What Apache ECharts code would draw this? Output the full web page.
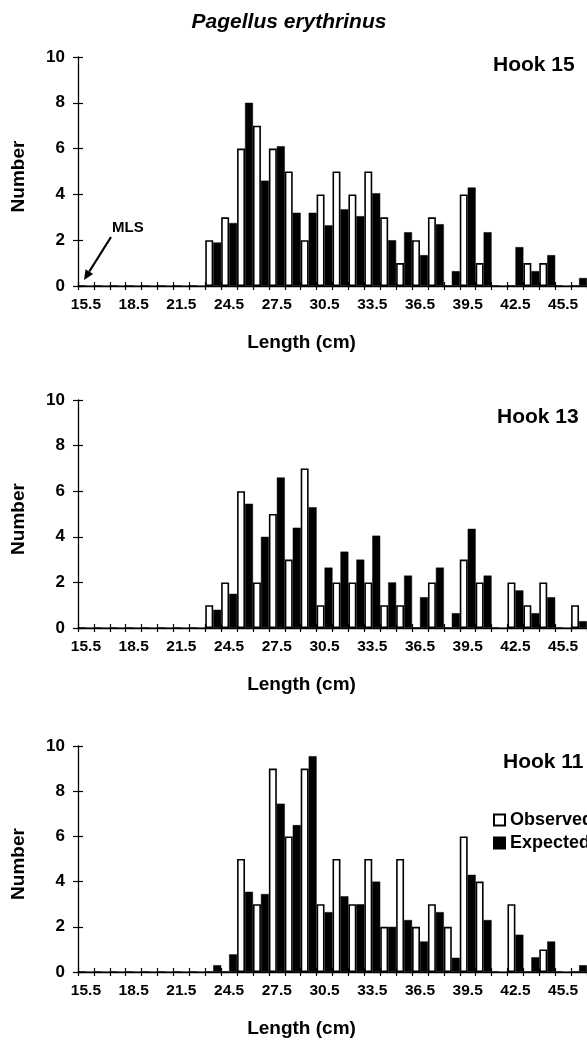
<!DOCTYPE html>
<html>
<head>
<meta charset="utf-8">
<script src="https://cdn.jsdelivr.net/npm/echarts@6/dist/echarts.min.js"></script>
<style>
  html, body { margin: 0; padding: 0; background: #fff; }
  #chart { width: 587px; height: 1048px; }
</style>
</head>
<body>
<div id="chart"></div>
<script>
// ---- data ----
const lengthBins = ['15.5','16.5','17.5','18.5','19.5','20.5','21.5','22.5','23.5','24.5','25.5','26.5','27.5','28.5','29.5','30.5','31.5','32.5','33.5','34.5','35.5','36.5','37.5','38.5','39.5','40.5','41.5','42.5','43.5','44.5','45.5','46.5'];
const yTicks = [0, 2, 4, 6, 8, 10];

const hook15Observed = [0,0,0,0,0,0,0,0, 2,3,6,7,6,5,2,4,5,4,5,3,1,2,3,0,4,1,0,0,1,1,0,0];
const hook15Expected = [0,0,0,0,0,0,0,0, 1.9,2.75,8.0,4.6,6.1,3.2,3.2,2.65,3.35,3.05,4.05,2.0,2.35,1.35,2.7,0.65,4.3,2.35,0,1.7,0.65,1.35,0,0.35];

const hook13Observed = [0,0,0,0,0,0,0,0, 1,2,6,2,5,3,7,1,2,2,2,1,1,0,2,0,3,2,0,2,1,2,0,1];
const hook13Expected = [0,0,0,0,0,0,0,0, 0.8,1.5,5.45,4.0,6.6,4.4,5.3,2.65,3.35,3.0,4.05,2.0,2.3,1.35,2.65,0.65,4.35,2.3,0,1.65,0.65,1.35,0,0.3];

const hook11Observed = [0,0,0,0,0,0,0,0, 0,0,5,3,9,6,9,3,5,3,5,2,5,2,3,2,6,4,0,3,0,1,0,0];
const hook11Expected = [0,0,0,0,0,0,0,0, 0.3,0.78,3.55,3.45,7.45,6.5,9.55,2.65,3.35,3.0,4.0,2.0,2.3,1.35,2.65,0.63,4.3,2.3,0,1.65,0.65,1.35,0,0.3];

const panelNames = ['Hook 15', 'Hook 13', 'Hook 11'];
const seriesNames = ['Observed', 'Expected'];

// ---- layout ----
const FONT = 'Liberation Sans, Arial, Helvetica, sans-serif';
const panels = [
  { top: 57, height: 229, obs: hook15Observed, exp: hook15Expected, label: { left: 488, top: 50 } },
  { top: 400, height: 228, obs: hook13Observed, exp: hook13Expected, label: { left: 492, top: 402 } },
  { top: 746, height: 226, obs: hook11Observed, exp: hook11Expected, label: { left: 498, top: 747 } }
];

const grid = [], xAxis = [], yAxis = [], series = [];
const title = [{
  text: 'Pagellus erythrinus', left: 284, top: 7, textAlign: 'center',
  textStyle: { fontFamily: FONT, fontSize: 21, fontWeight: 'bold', fontStyle: 'italic', color: '#000' }
}];

panels.forEach((p, i) => {
  grid.push({ left: 78, width: 511, top: p.top, height: p.height, containLabel: false });
  // main x axis (outer ticks + labels)
  xAxis.push({
    gridIndex: i, type: 'category', data: lengthBins, boundaryGap: true, position: 'bottom',
    axisLine: { show: true, lineStyle: { color: '#000', width: 1.3 } },
    axisTick: { show: true, interval: 0, length: 4, lineStyle: { color: '#000', width: 1.2 } },
    axisLabel: { show: true, interval: 2, color: '#000', fontFamily: FONT, fontWeight: 'bold', fontSize: 15.5, margin: 11 },
    name: 'Length (cm)', nameLocation: 'middle', nameGap: 47,
    nameTextStyle: { fontFamily: FONT, fontWeight: 'bold', fontSize: 19, color: '#000', padding: [0, 62, 0, 0] },
    splitLine: { show: false }
  });
  // inner ticks
  xAxis.push({
    gridIndex: i, type: 'category', data: lengthBins, boundaryGap: true, position: 'bottom',
    axisLine: { show: false },
    axisTick: { show: true, inside: true, interval: 0, length: 4, lineStyle: { color: '#000', width: 1.2 } },
    axisLabel: { show: false }, splitLine: { show: false }
  });
  yAxis.push({
    gridIndex: i, type: 'value', min: yTicks[0], max: yTicks[yTicks.length - 1], interval: 2,
    axisLine: { show: true, lineStyle: { color: '#000', width: 1.3 } },
    axisTick: { show: true, length: 5, lineStyle: { color: '#000', width: 1.2 } },
    axisLabel: { color: '#000', fontFamily: FONT, fontWeight: 'bold', fontSize: 17, margin: 13 },
    splitLine: { show: false },
    name: 'Number', nameLocation: 'middle', nameGap: 50, nameRotate: 90,
    nameTextStyle: { fontFamily: FONT, fontWeight: 'bold', fontSize: 19, color: '#000', padding: [0, 10, 0, 0] }
  });
  yAxis.push({
    gridIndex: i, type: 'value', min: yTicks[0], max: yTicks[yTicks.length - 1], interval: 2, position: 'left',
    axisLine: { show: false },
    axisTick: { show: true, inside: true, length: 5, lineStyle: { color: '#000', width: 1.2 } },
    axisLabel: { show: false }, splitLine: { show: false }
  });
  series.push({
    name: seriesNames[0], type: 'bar', xAxisIndex: 2 * i, yAxisIndex: 2 * i, data: p.obs,
    barGap: '0%', barCategoryGap: '0%',
    itemStyle: { color: '#fff', borderColor: '#000', borderWidth: 1.6 },
    silent: true
  });
  series.push({
    name: seriesNames[1], type: 'bar', xAxisIndex: 2 * i, yAxisIndex: 2 * i, data: p.exp,
    barGap: '0%', barCategoryGap: '0%',
    itemStyle: { color: '#000', borderColor: '#000', borderWidth: 0.5 },
    silent: true
  });
  title.push({
    text: panelNames[i], left: p.label.left, top: p.label.top,
    textStyle: { fontFamily: FONT, fontSize: 21, fontWeight: 'bold', color: '#000' }
  });
});

// MLS annotation arrow (line + arrowhead)
const arrowStart = [111, 237], arrowTip = [84, 280];
const ang = Math.atan2(arrowTip[1] - arrowStart[1], arrowTip[0] - arrowStart[0]);
const headLen = 10, headHalf = 4.5;
const baseX = arrowTip[0] - headLen * Math.cos(ang), baseY = arrowTip[1] - headLen * Math.sin(ang);
const arrowHead = [
  arrowTip,
  [baseX + headHalf * Math.sin(ang), baseY - headHalf * Math.cos(ang)],
  [baseX - headHalf * Math.sin(ang), baseY + headHalf * Math.cos(ang)]
];

const option = {
  backgroundColor: '#fff',
  animation: false,
  title: title,
  grid: grid,
  xAxis: xAxis,
  yAxis: yAxis,
  series: series,
  legend: {
    data: seriesNames, orient: 'vertical', left: 488, top: 806, icon: 'rect',
    itemWidth: 11, itemHeight: 11, itemGap: 5,
    textStyle: { fontFamily: FONT, fontWeight: 'bold', fontSize: 18, color: '#000' }
  },
  graphic: [
    { type: 'text', left: 112, top: 220,
      style: { text: 'MLS', fontFamily: FONT, fontWeight: 'bold', fontSize: 15, fill: '#000' } },
    { type: 'line', shape: { x1: arrowStart[0], y1: arrowStart[1], x2: baseX, y2: baseY },
      style: { stroke: '#000', lineWidth: 2.2 } },
    { type: 'polygon', shape: { points: arrowHead }, style: { fill: '#000' } }
  ]
};

const chart = echarts.init(document.getElementById('chart'), null, { renderer: 'canvas' });
chart.setOption(option);
</script>
</body>
</html>
